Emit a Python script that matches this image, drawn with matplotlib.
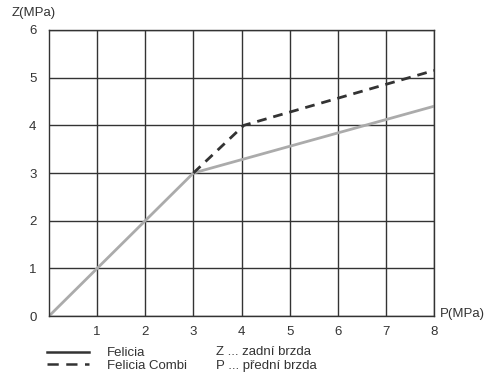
import matplotlib
matplotlib.use('Agg')
import matplotlib.pyplot as plt
from matplotlib.lines import Line2D

plt.rcParams['font.family'] = ['Liberation Sans', 'DejaVu Sans']

# Front brake pressure P vs rear brake pressure Z (MPa)
felicia_p = [0, 3, 8]
felicia_z = [0, 3, 4.4]
combi_p = [3, 4.05, 8]
combi_z = [3, 4.0, 5.15]

x_ticks = [1, 2, 3, 4, 5, 6, 7, 8]
y_ticks = [0, 1, 2, 3, 4, 5, 6]

fig = plt.figure(figsize=(5.0, 3.79), dpi=100)
ax = fig.add_axes([0.098, 0.166, 0.77, 0.755])

ax.plot(felicia_p, felicia_z, color='#ababab', lw=2.0, solid_capstyle='round')
ax.plot(combi_p, combi_z, color='#333333', lw=2.0, dashes=(3.5, 2.5))

ax.set_xlim(0, 8)
ax.set_ylim(0, 6)
ax.set_xticks(x_ticks)
ax.set_yticks(y_ticks)
ax.grid(True, color='#333333', lw=1.0)
ax.set_axisbelow(True)
for s in ax.spines.values():
    s.set_color('#333333')
    s.set_linewidth(1.0)
ax.tick_params(length=0, labelsize=9.5, colors='#333333')
ax.tick_params(axis='x', pad=7)
ax.tick_params(axis='y', pad=9)

fig.text(0.024, 0.965, 'Z(MPa)', fontsize=9.5, color='#333333', va='center')
fig.text(0.88, 0.172, 'P(MPa)', fontsize=9.5, color='#333333', va='center')

handles = [Line2D([], [], color='#333333', lw=1.8),
           Line2D([], [], color='#333333', lw=1.8, dashes=(4.5, 3))]
fig.legend(handles, ['Felicia', 'Felicia Combi'], loc='upper left',
           bbox_to_anchor=(0.08, 0.102), frameon=False, fontsize=9.5,
           handlelength=3.2, handletextpad=1.4, labelspacing=0.05,
           borderpad=0, labelcolor='#333333')

fig.text(0.432, 0.072, 'Z ... zadní brzda', fontsize=9.5, color='#333333', va='center')
fig.text(0.432, 0.033, 'P ... přední brzda', fontsize=9.5, color='#333333', va='center')

fig.savefig('out.png', dpi=100)
